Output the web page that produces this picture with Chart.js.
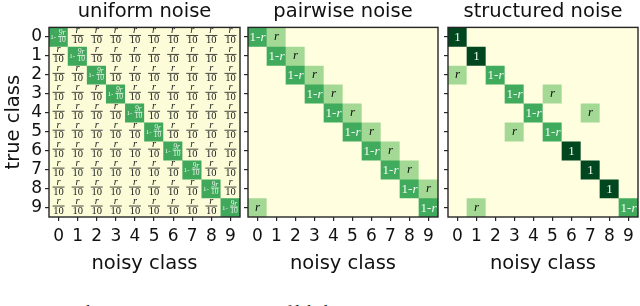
<!DOCTYPE html>
<html>
<head>
<meta charset="utf-8">
<script src="https://cdn.jsdelivr.net/npm/chart.js@4.4.1/dist/chart.umd.min.js"></script>
<style>
  html, body { margin: 0; padding: 0; background: #fff; }
  #wrap { position: relative; width: 640px; height: 306px; overflow: hidden; }
  canvas { position: absolute; top: 0; }
  #caption {
    position: absolute; left: 10px; top: 302px; white-space: nowrap;
    font: 17px "Liberation Serif", serif; line-height: 20px; color: #111;
  }
</style>
</head>
<body>
<div id="wrap">
  <canvas id="uniform" width="242" height="276" style="left:0px"></canvas>
  <canvas id="pairwise" width="198" height="276" style="left:242px"></canvas>
  <canvas id="structured" width="198" height="276" style="left:442px"></canvas>
  <div id="caption">Figure 1: The noise transition matrices of label noise on CIFAR-10.</div>
</div>
<script>
// class indices on both axes
const trueClasses = ['0', '1', '2', '3', '4', '5', '6', '7', '8', '9'];
const noisyClasses = ['0', '1', '2', '3', '4', '5', '6', '7', '8', '9'];

// cell entries (symbolic, as printed in the cells)
const Z = '';          // zero
const U = 'r/10';      // uniform off-diagonal
const D = '1-9r/10';   // uniform diagonal
const P = 'r';
const Q = '1-r';
const I = '1';

const uniformNoise = [
    [D, U, U, U, U, U, U, U, U, U],
    [U, D, U, U, U, U, U, U, U, U],
    [U, U, D, U, U, U, U, U, U, U],
    [U, U, U, D, U, U, U, U, U, U],
    [U, U, U, U, D, U, U, U, U, U],
    [U, U, U, U, U, D, U, U, U, U],
    [U, U, U, U, U, U, D, U, U, U],
    [U, U, U, U, U, U, U, D, U, U],
    [U, U, U, U, U, U, U, U, D, U],
    [U, U, U, U, U, U, U, U, U, D]
];

const pairwiseNoise = [
    [Q, P, Z, Z, Z, Z, Z, Z, Z, Z],
    [Z, Q, P, Z, Z, Z, Z, Z, Z, Z],
    [Z, Z, Q, P, Z, Z, Z, Z, Z, Z],
    [Z, Z, Z, Q, P, Z, Z, Z, Z, Z],
    [Z, Z, Z, Z, Q, P, Z, Z, Z, Z],
    [Z, Z, Z, Z, Z, Q, P, Z, Z, Z],
    [Z, Z, Z, Z, Z, Z, Q, P, Z, Z],
    [Z, Z, Z, Z, Z, Z, Z, Q, P, Z],
    [Z, Z, Z, Z, Z, Z, Z, Z, Q, P],
    [P, Z, Z, Z, Z, Z, Z, Z, Z, Q]
];

const structuredNoise = [
    [I, Z, Z, Z, Z, Z, Z, Z, Z, Z],
    [Z, I, Z, Z, Z, Z, Z, Z, Z, Z],
    [P, Z, Q, Z, Z, Z, Z, Z, Z, Z],
    [Z, Z, Z, Q, Z, P, Z, Z, Z, Z],
    [Z, Z, Z, Z, Q, Z, Z, P, Z, Z],
    [Z, Z, Z, P, Z, Q, Z, Z, Z, Z],
    [Z, Z, Z, Z, Z, Z, I, Z, Z, Z],
    [Z, Z, Z, Z, Z, Z, Z, I, Z, Z],
    [Z, Z, Z, Z, Z, Z, Z, Z, I, Z],
    [Z, P, Z, Z, Z, Z, Z, Z, Z, Q]
];

const cellColors = {
    '': '#ffffe0',
    'r/10': '#fcfcd8',
    '1-9r/10': '#3fa85b',
    'r': '#a3d994',
    '1-r': '#41ab5d',
    '1': '#00461f'
};

const SANS = '"DejaVu Sans", sans-serif';
const SERIF = '"Liberation Serif", "DejaVu Serif", serif';
const INK = '#111111';
const FRAME = '#262626';

function drawFraction(ctx, top, cx, cy, size, lineW, color, gap) {
    ctx.fillStyle = color;
    ctx.textAlign = 'center';
    ctx.textBaseline = 'alphabetic';
    ctx.font = 'italic ' + size + 'px ' + SERIF;
    ctx.fillText(top, cx, cy - gap);
    ctx.fillRect(cx - lineW / 2, cy - 0.4, lineW, 0.8);
    ctx.font = size + 'px ' + SERIF;
    ctx.fillText('10', cx, cy + size * 0.75);
}

function drawToken(ctx, t, cx, cy) {
    ctx.save();
    if (t === 'r/10') {
        drawFraction(ctx, 'r', cx, cy - 1.5, 10.5, 12, '#1a1a1a', 2);
    } else if (t === '1-9r/10') {
        ctx.fillStyle = '#eef5ee';
        ctx.font = '7px ' + SERIF;
        ctx.textAlign = 'center';
        ctx.textBaseline = 'alphabetic';
        ctx.fillText('1-', cx - 5.5, cy + 2.5);
        drawFraction(ctx, '9r', cx + 3.5, cy - 0.5, 7.5, 8, '#eef5ee', 1.5);
    } else if (t === '1-r') {
        ctx.fillStyle = '#f4faf4';
        ctx.textBaseline = 'alphabetic';
        ctx.textAlign = 'left';
        ctx.font = '13px ' + SERIF;
        const w1 = ctx.measureText('1-').width;
        ctx.font = 'italic 13px ' + SERIF;
        const w2 = ctx.measureText('r').width;
        const x0 = cx - (w1 + w2) / 2;
        ctx.font = '13px ' + SERIF;
        ctx.fillText('1-', x0, cy + 4.5);
        ctx.font = 'italic 13px ' + SERIF;
        ctx.fillText('r', x0 + w1, cy + 4.5);
    } else if (t === 'r') {
        ctx.fillStyle = INK;
        ctx.font = 'italic 13px ' + SERIF;
        ctx.textAlign = 'center';
        ctx.textBaseline = 'alphabetic';
        ctx.fillText('r', cx, cy + 3.5);
    } else if (t === '1') {
        ctx.fillStyle = '#f4faf4';
        ctx.font = '13px ' + SERIF;
        ctx.textAlign = 'center';
        ctx.textBaseline = 'alphabetic';
        ctx.fillText('1', cx, cy + 4.5);
    }
    ctx.restore();
}

function matrixPlugin(matrix) {
    return {
        id: 'matrixDecor',
        beforeDatasetsDraw(chart) {
            const { ctx, chartArea: a } = chart;
            ctx.save();
            ctx.fillStyle = cellColors[''];
            ctx.fillRect(a.left, a.top, a.right - a.left, a.bottom - a.top);
            ctx.restore();
        },
        afterDatasetsDraw(chart) {
            const { ctx, chartArea: a, scales: { x, y } } = chart;
            matrix.forEach((row, i) => {
                row.forEach((t, j) => {
                    drawToken(ctx, t, x.getPixelForValue(j), y.getPixelForValue(i));
                });
            });
            ctx.save();
            ctx.strokeStyle = FRAME;
            ctx.lineWidth = 1.4;
            ctx.strokeRect(a.left, a.top, a.right - a.left, a.bottom - a.top);
            ctx.restore();
        }
    };
}

function makeMatrixChart(canvasId, matrix, title, showYLabels) {
    const datasets = matrix.map((row, i) => ({
        label: trueClasses[i],
        data: noisyClasses.map(() => [i - 0.5, i + 0.5]),
        backgroundColor: row.map(t => cellColors[t]),
        borderWidth: 0,
        barPercentage: 1,
        categoryPercentage: 1,
        grouped: false
    }));

    return new Chart(document.getElementById(canvasId), {
        type: 'bar',
        data: { labels: noisyClasses, datasets: datasets },
        options: {
            responsive: false,
            animation: false,
            events: [],
            layout: { padding: { top: 0, right: 2, bottom: 0, left: 0 } },
            plugins: {
                legend: { display: false },
                tooltip: { enabled: false },
                title: {
                    display: true,
                    fullSize: false,
                    text: title,
                    color: INK,
                    font: { family: SANS, size: 19.5, weight: 'normal' },
                    padding: { top: 0, bottom: 4 }
                }
            },
            scales: {
                x: {
                    type: 'category',
                    offset: true,
                    grid: { drawOnChartArea: false, offset: false, tickLength: 4, color: FRAME, lineWidth: 1.2 },
                    border: { display: false },
                    ticks: {
                        color: INK,
                        font: { family: SANS, size: 17 },
                        padding: 5,
                        maxRotation: 0,
                        autoSkip: false
                    },
                    title: {
                        display: true,
                        text: 'noisy class',
                        color: INK,
                        font: { family: SANS, size: 19.5 },
                        padding: 0
                    },
                    afterFit: s => { s.height = 59; }
                },
                y: {
                    type: 'linear',
                    reverse: true,
                    min: -0.5,
                    max: 9.5,
                    afterBuildTicks: s => { s.ticks = trueClasses.map((c, i) => ({ value: i })); },
                    grid: { drawOnChartArea: false, tickLength: 4, color: FRAME, lineWidth: 1.2 },
                    border: { display: false },
                    ticks: {
                        color: INK,
                        font: { family: SANS, size: 17 },
                        padding: 3,
                        autoSkip: false,
                        callback: v => showYLabels ? trueClasses[v] : ''
                    },
                    title: {
                        display: showYLabels,
                        text: 'true class',
                        color: INK,
                        font: { family: SANS, size: 19.5 },
                        padding: { top: 2, bottom: 0 }
                    },
                    afterFit: s => { s.width = showYLabels ? 49 : 6; }
                }
            }
        },
        plugins: [matrixPlugin(matrix)]
    });
}

makeMatrixChart('uniform', uniformNoise, 'uniform noise', true);
makeMatrixChart('pairwise', pairwiseNoise, 'pairwise noise', false);
makeMatrixChart('structured', structuredNoise, 'structured noise', false);
</script>
</body>
</html>
